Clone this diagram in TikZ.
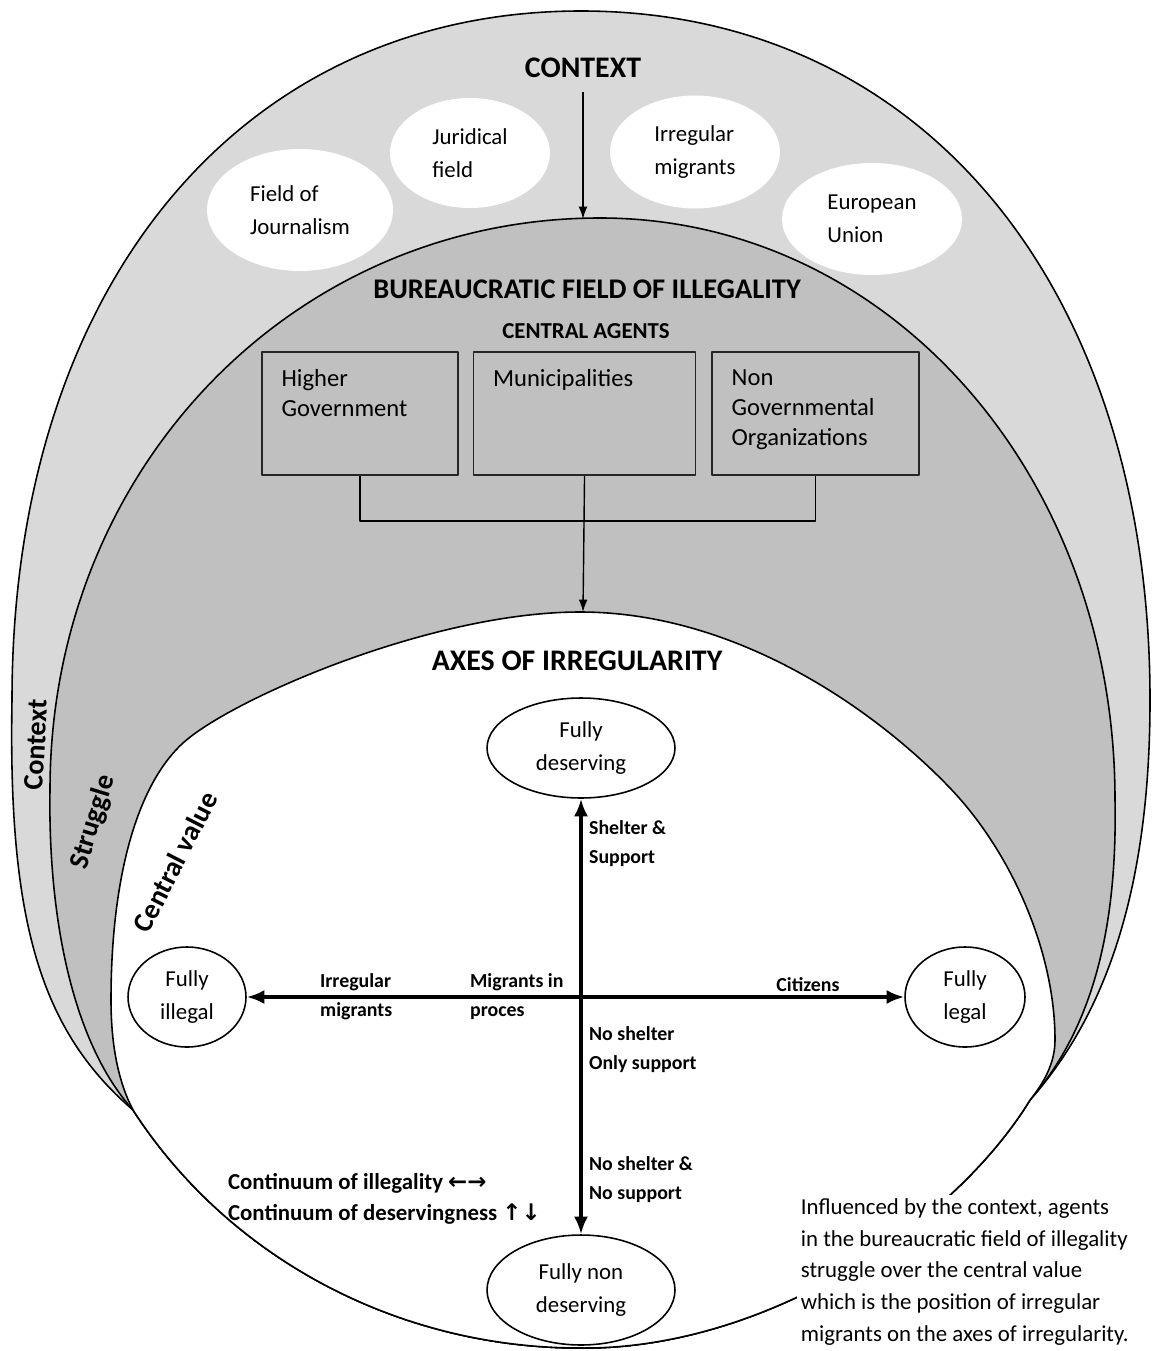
\documentclass[tikz,border=0pt]{standalone}
\usepackage{fontspec}
\setmainfont{Carlito}
\newfontfamily\arrowfont{DejaVu Sans}
\usetikzlibrary{arrows.meta, positioning, shapes.geometric}
\definecolor{ctxgray}{RGB}{217,217,217}
\definecolor{fieldgray}{RGB}{192,192,192}

\begin{document}
\begin{tikzpicture}[x=0.02cm, y=-0.02cm, line join=round,
    field/.style={line width=0.9pt},
    title/.style={font=\fontsize{17}{20}\selectfont\bfseries},
    subtitle/.style={font=\fontsize{13}{16}\selectfont\bfseries},
    factor/.style={ellipse, fill=white, align=left, inner sep=0pt, font=\fontsize{13}{18.5}\selectfont},
    agent/.style={draw=black!85, fill=fieldgray, line width=0.9pt, minimum height=2.46cm, inner sep=0pt},
    agenttext/.style={anchor=north west, align=left, inner sep=0pt, xshift=0.4cm, yshift=-0.36cm, font=\fontsize{14}{17.2}\selectfont},
    pole/.style={ellipse, draw, fill=white, line width=0.9pt, align=center, inner sep=0pt, font=\fontsize{13}{18.5}\selectfont},
    axislabel/.style={anchor=north west, align=left, inner sep=1pt, font=\fontsize{11.3}{17}\selectfont\bfseries},
    sidelabel/.style={font=\fontsize{16}{18}\selectfont\bfseries},
    flow/.style={line width=0.8pt, -{Latex[length=7pt,width=5pt]}},
    axis/.style={line width=2.2pt, {Latex[length=10pt,width=8pt]}-{Latex[length=10pt,width=8pt]}}]
\useasboundingbox (0,0) rectangle (1152,1351);

% the three nested fields, all closed by the same lower arc
\filldraw[field, fill=ctxgray] (133,1110) .. controls (40,1030) and (8,920) .. (12,700)
  .. controls (12,287) and (240,11) .. (581,11)
  .. controls (922,11) and (1150,287) .. (1150,700)
  .. controls (1150,880) and (1110,1010) .. (1030,1100)
  .. controls (950,1230) and (760,1350) .. (580,1348)
  .. controls (400,1348) and (230,1260) .. cycle;
\filldraw[field, fill=fieldgray] (133,1110) .. controls (70,1040) and (48,910) .. (50,790)
  .. controls (50,470) and (292,218) .. (600,218)
  .. controls (888,218) and (1115,474) .. (1115,800)
  .. controls (1117,910) and (1100,1020) .. (1030,1100)
  .. controls (950,1230) and (760,1350) .. (580,1348)
  .. controls (400,1348) and (230,1260) .. cycle;
\filldraw[field, fill=white] (133,1110) .. controls (120,1085) and (111,1050) .. (111,1000)
  .. controls (111,880) and (136,786) .. (183,743)
  .. controls (230,700) and (430,612) .. (580,612)
  .. controls (740,612) and (879,714) .. (949,787)
  .. controls (1010,850) and (1055,950) .. (1055,1040)
  .. controls (1055,1065) and (1042,1085) .. (1030,1100)
  .. controls (950,1230) and (760,1350) .. (580,1348)
  .. controls (400,1348) and (230,1260) .. cycle;

\node[sidelabel, rotate=87] (lctx) at (36,745) {Context};
\node[sidelabel, rotate=73] (lstr) at (93,822) {Struggle};
\node[sidelabel, rotate=63] (lval) at (175,862) {Central value};

% context
\node[title] (ctx) at (583,68) {CONTEXT};
\node[factor, minimum width=3.72cm, minimum height=2.44cm] (journ) at (300,210) {Field of\\Journalism};
\node[factor, minimum width=3.2cm, minimum height=2.2cm] (jur) at (470,153) {Juridical\\field};
\node[factor, minimum width=3.4cm, minimum height=2.26cm] (irr) at (695,152) {Irregular\\migrants};
\node[factor, minimum width=3.6cm, minimum height=2.24cm] (eu) at (872,219) {European\\Union};
\coordinate (fieldtop) at (583,219);
\draw[flow] (ctx.south) ++(0,8) -- (fieldtop);

% bureaucratic field
\node[title, font=\fontsize{16.2}{19}\selectfont\bfseries] (bfi) at (587,289) {BUREAUCRATIC FIELD OF ILLEGALITY};
\node[subtitle] (ca) at (586,331) {CENTRAL AGENTS};
\node[agent, minimum width=3.92cm, label={[agenttext]north west:{Higher\\Government}}] (hg) at (360,413.5) {};
\node[agent, minimum width=4.44cm, right=0.28cm of hg, label={[agenttext]north west:{Municipalities}}] (mun) {};
\node[agent, minimum width=4.14cm, right=0.3cm of mun, label={[agenttext]north west:{Non\\Governmental\\Organizations}}] (ngo) {};
\coordinate (axtop) at (583,612);
\draw[line width=0.9pt] (hg.south) -- ++(0,45) -| (ngo.south);
\draw[flow] (mun.south) -- (axtop);

% axes of irregularity
\node[title] (axes) at (577,661) {AXES OF IRREGULARITY};
\node[pole, minimum width=3.76cm, minimum height=2cm] (deserv) at (581,748) {Fully\\deserving};
\node[pole, minimum width=3.76cm, minimum height=2.2cm] (nondeserv) at (581,1290) {Fully non\\deserving};
\node[pole, minimum width=2.36cm, minimum height=2cm] (illegal) at (187,997) {Fully\\illegal};
\node[pole, minimum width=2.4cm, minimum height=2cm] (legal) at (965,997) {Fully\\legal};
\draw[axis] (illegal) -- (legal);
\draw[axis] (deserv) -- (nondeserv);

\node[axislabel] (shelter) at (587,818) {Shelter \&\\Support};
\node[axislabel] (onlysup) at (587,1024) {No shelter\\Only support};
\node[axislabel] (nosup) at (587,1154) {No shelter \&\\No support};
\node[axislabel] (irrmig) at (318,971) {Irregular\\migrants};
\node[axislabel] (inproc) at (468,971) {Migrants in\\proces};
\node[axislabel, anchor=center] (citiz) at (808,985) {Citizens};
\node[anchor=north west, align=left, inner sep=1pt, font=\fontsize{13}{17.6}\selectfont\bfseries] (contin) at (226,1171)
  {Continuum of illegality {\arrowfont ←→}\\Continuum of deservingness {\arrowfont ↑↓}};

\node[anchor=north west, align=left, fill=white, inner sep=2pt, font=\fontsize{13}{18}\selectfont] (note) at (797,1195)
  {Influenced by the context, agents\\in the bureaucratic field of illegality\\struggle over the central value\\which is the position of irregular\\migrants on the axes of irregularity.};
\end{tikzpicture}
\end{document}
